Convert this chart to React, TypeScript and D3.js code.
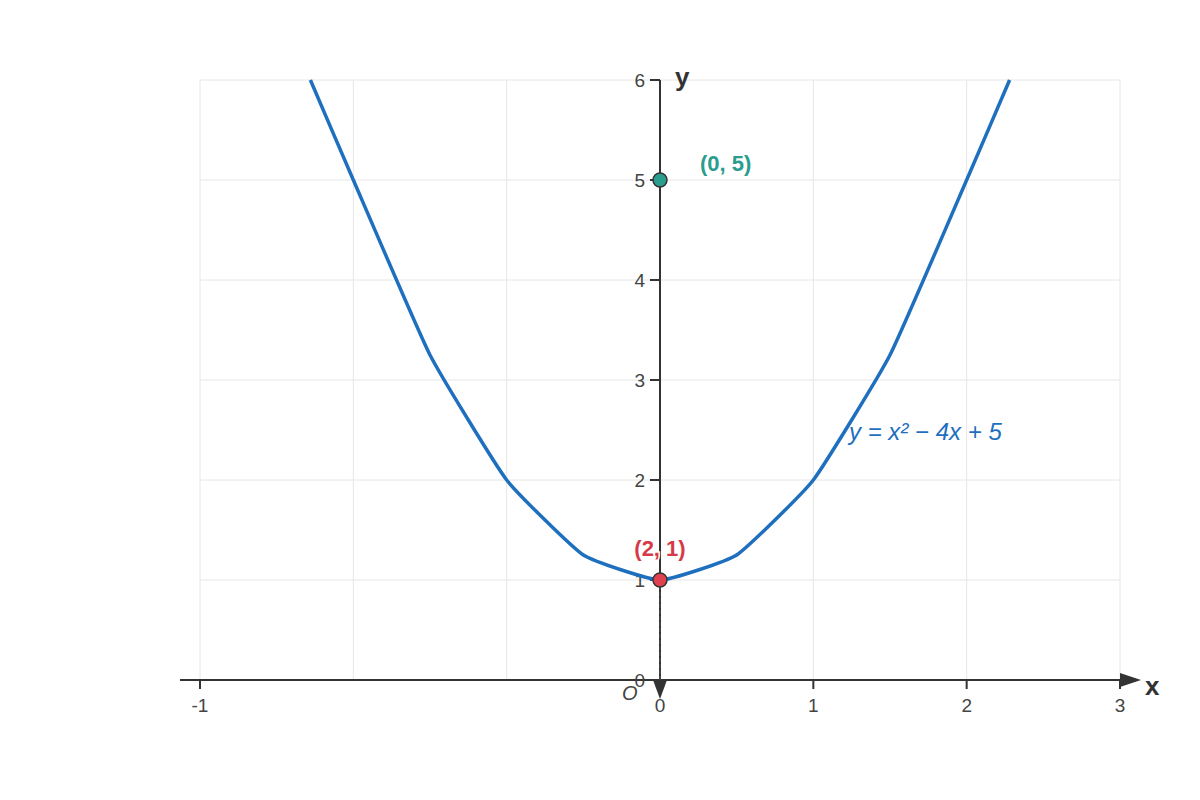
import * as d3 from 'd3';
import { FC } from 'react';

// curve samples (plot x units, y units)
const curveX = [-0.28, 0, 0.5, 1, 1.5, 2, 2.5, 3, 3.5, 4, 4.28];
const curveY = [6, 5, 3.25, 2, 1.25, 1, 1.25, 2, 3.25, 5, 6];

const gridX = [-1, 0, 1, 2, 3, 4, 5];
const gridY = [0, 1, 2, 3, 4, 5, 6];

const xTickValues = [-1, 2, 3, 4, 5];
const xTickLabels = ['-1', '0', '1', '2', '3'];
const yTickLabels = ['0', '1', '2', '3', '4', '5', '6'];

const pointX = [2, 2];
const pointY = [5, 1];
const pointLabels = ['(0, 5)', '(2, 1)'];
const pointColors = ['#2a9d8f', '#e0414f'];
const labelColors = ['#2a9d8f', '#d63a48'];

const curveLabel = 'y = x² − 4x + 5';

const font = '"Liberation Sans", Arial, Helvetica, sans-serif';

const App: FC = () => {
  const width = 1200;
  const height = 800;

  const x = d3.scaleLinear().domain([-1, 5]).range([200, 1120]);
  const y = d3.scaleLinear().domain([0, 6]).range([680, 80]);

  const pts = curveX.map((v, i) => [v, curveY[i]] as [number, number]);
  const line = d3
    .line<[number, number]>()
    .x((d) => x(d[0]))
    .y((d) => y(d[1]))
    .curve(d3.curveCardinal.tension(0.6));

  const x0 = x(2); // where the y axis sits
  const y0 = y(0);

  return (
    <svg
      width={width}
      height={height}
      style={{ position: 'absolute', left: 0, top: 0, background: '#fff' }}
      fontFamily={font}
    >
      {/* grid */}
      {gridX.map((g) => (
        <line key={'gx' + g} x1={x(g)} x2={x(g)} y1={y(0)} y2={y(6)} stroke="#e6e6e6" strokeWidth={1} />
      ))}
      {gridY.map((g) => (
        <line key={'gy' + g} x1={x(-1)} x2={x(5)} y1={y(g)} y2={y(g)} stroke="#e6e6e6" strokeWidth={1} />
      ))}

      {/* x axis */}
      <line x1={180} x2={1122} y1={y0} y2={y0} stroke="#333" strokeWidth={2} />
      <path d={`M${1120},${y0 - 7}L${1141},${y0}L${1120},${y0 + 7}Z`} fill="#333" />
      <text x={1145} y={y0 + 15} fontSize={26} fontWeight="bold" fill="#333">
        x
      </text>
      {xTickValues.map((t, i) => (
        <g key={'xt' + t}>
          <line x1={x(t)} x2={x(t)} y1={y0} y2={y0 + 9} stroke="#333" strokeWidth={2} />
          <text x={x(t)} y={y0 + 32} fontSize={19} fill="#444" textAnchor="middle">
            {xTickLabels[i]}
          </text>
        </g>
      ))}

      {/* y axis */}
      <line x1={x0} x2={x0} y1={y(6)} y2={y0} stroke="#333" strokeWidth={2} />
      {gridY.map((t, i) => (
        <g key={'yt' + t}>
          <line x1={x0 - 10} x2={x0} y1={y(t)} y2={y(t)} stroke="#333" strokeWidth={2} />
          <text x={x0 - 15} y={y(t) + 7} fontSize={19} fill="#444" textAnchor="end">
            {yTickLabels[i]}
          </text>
        </g>
      ))}
      <text x={675} y={86} fontSize={26} fontWeight="bold" fill="#333">
        y
      </text>
      <text x={622} y={700} fontSize={20} fontStyle="italic" fill="#444">
        O
      </text>

      {/* curve */}
      <path d={line(pts) ?? ''} fill="none" stroke="#1f6fbf" strokeWidth={3.5} strokeLinejoin="round" />
      <text x={849} y={440} fontSize={24} fontStyle="italic" fill="#1f6fbf">
        {curveLabel}
      </text>

      {/* dashed drop from the vertex */}
      <line
        x1={x(pointX[1])}
        x2={x(pointX[1])}
        y1={y(pointY[1])}
        y2={y0 + 4}
        stroke="#444"
        strokeWidth={2}
        strokeDasharray="4,2"
      />
      <path d={`M${x0 - 7},${y0}L${x0 + 7},${y0}L${x0},${y0 + 19}Z`} fill="#333" />

      {/* points */}
      {pointX.map((px, i) => (
        <circle
          key={'p' + i}
          cx={x(px)}
          cy={y(pointY[i])}
          r={7}
          fill={pointColors[i]}
          stroke="#333"
          strokeWidth={1.5}
        />
      ))}
      <text
        x={x(pointX[0]) + 40}
        y={y(pointY[0]) - 9}
        fontSize={22}
        fontWeight="bold"
        fill={labelColors[0]}
        stroke="#fff"
        strokeWidth={3}
        paintOrder="stroke"
      >
        {pointLabels[0]}
      </text>
      <text
        x={x(pointX[1])}
        y={y(pointY[1]) - 24}
        fontSize={22}
        fontWeight="bold"
        fill={labelColors[1]}
        textAnchor="middle"
        stroke="#fff"
        strokeWidth={3}
        paintOrder="stroke"
      >
        {pointLabels[1]}
      </text>
    </svg>
  );
};

export default App;
